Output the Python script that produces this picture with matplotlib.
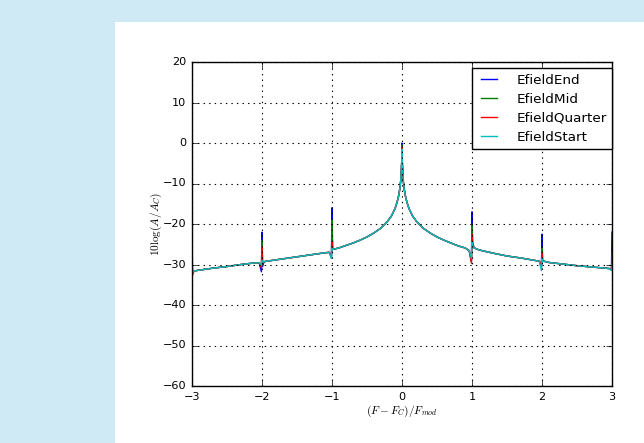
import matplotlib
matplotlib.use("Agg")
import matplotlib.pyplot as plt
import numpy as np
from matplotlib.patches import Rectangle

plt.style.use("classic")

# Shared smooth part of the spectrum (dB)
x_base = [-2.97, -2.9, -2.7, -2.5, -2.3, -2.1, -2.04, -1.97, -1.9, -1.7, -1.5,
          -1.3, -1.1, -1.04, -0.97, -0.9, -0.8, -0.7, -0.6, -0.5, -0.4, -0.3,
          -0.2, -0.15, -0.1, -0.07, -0.05, -0.03, -0.02, -0.01, -0.004,
          0.004, 0.01, 0.02, 0.03, 0.05, 0.07, 0.1, 0.15, 0.2, 0.3, 0.4, 0.5,
          0.6, 0.7, 0.8, 0.9, 0.96, 1.03, 1.1, 1.3, 1.5, 1.7, 1.9, 1.96, 2.03,
          2.1, 2.3, 2.5, 2.7, 2.9, 2.96]
y_base = [-31.6, -31.4, -30.9, -30.5, -30.0, -29.6, -29.6, -29.3, -29.1, -28.6, -28.1,
          -27.6, -27.1, -27.0, -26.2, -25.9, -25.3, -24.7, -24.0, -23.2, -22.2, -21.0,
          -19.2, -18.0, -16.2, -14.6, -13.2, -11.2, -9.6, -7.0, -4.5,
          -4.5, -7.0, -9.6, -11.2, -13.2, -14.6, -16.2, -18.0, -19.2, -21.0, -22.2, -23.2,
          -24.0, -24.7, -25.4, -25.9, -26.6, -25.9, -26.4, -27.2, -27.9, -28.4, -29.0, -29.2, -29.2,
          -29.5, -29.9, -30.3, -30.6, -30.9, -31.0]

# Spike positions (harmonics of F_mod) and per-series values there
spike_x = [-3.0, -2.992, -2.008, -2.0, -1.992, -1.008, -1.0, -0.992, 0.0,
           0.992, 1.0, 1.008, 1.992, 2.0, 2.008, 2.992, 3.0]
spike_end = [-23.5, -32.0, -31.8, -22.0, -30.5, -28.0, -16.0, -26.0, 0.0,
             -29.0, -17.0, -24.5, -30.5, -22.5, -29.0, -31.2, -22.0]
spike_mid = [-28.0, -32.2, -30.5, -24.0, -29.8, -28.5, -19.0, -26.0, -0.5,
             -29.3, -20.0, -24.8, -30.0, -26.0, -29.2, -31.3, -27.0]
spike_quarter = [-30.0, -32.6, -30.8, -25.5, -29.8, -28.0, -24.5, -26.0, -1.0,
                 -29.7, -22.5, -25.0, -30.0, -27.0, -29.2, -31.3, -28.0]
spike_start = [-31.0, -32.0, -30.2, -29.0, -29.5, -28.5, -26.0, -26.2, -1.5,
               -28.5, -24.5, -25.3, -31.5, -28.5, -29.3, -31.5, -30.0]

labels = ["EfieldEnd", "EfieldMid", "EfieldQuarter", "EfieldStart"]
colors = ["b", "g", "r", "c"]
spikes = [spike_end, spike_mid, spike_quarter, spike_start]

fig = plt.figure(figsize=(6.44, 4.43), dpi=100)
fig.patch.set_facecolor("#cfeaf5")
# white page area behind the chart
fig.patches.append(Rectangle((115 / 644, 0), 1, (443 - 22) / 443,
                             transform=fig.transFigure, facecolor="white",
                             edgecolor="none", zorder=-10))

ax = fig.add_axes([192 / 644, (443 - 386) / 443, 420 / 644, 324 / 443])

for lab, col, sp in zip(labels, colors, spikes):
    x = np.array(x_base + spike_x)
    y = np.array(y_base + sp)
    order = np.argsort(x)
    ax.plot(x[order], y[order], color=col, lw=1.0, label=lab)

ax.set_xlim(-3, 3)
ax.set_ylim(-60, 20)
ax.set_xticks(np.arange(-3, 4, 1))
ax.set_yticks(np.arange(-60, 21, 10))
ax.tick_params(labelsize=8.1)
ax.grid(True, linestyle=":", color="black", lw=0.8)
ax.set_xlabel(r"$(F - F_C)/F_{mod}$", fontsize=8.1, labelpad=1.5)
ax.set_ylabel(r"$10\log(A/A_C)$", fontsize=8.1, labelpad=-0.5)

ax.legend(loc="upper right", bbox_to_anchor=(1.0, 0.981), borderaxespad=0,
          fontsize=9.7, handlelength=1.8, handletextpad=1.1, labelspacing=0.45,
          fancybox=False, numpoints=2)

fig.savefig("out.png", dpi=100, facecolor=fig.get_facecolor())
